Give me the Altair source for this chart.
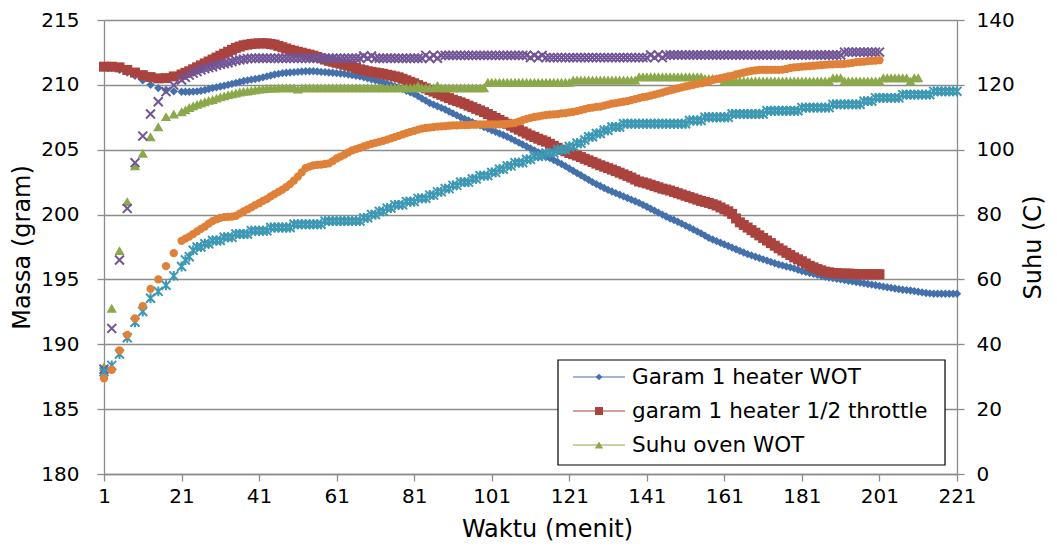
import altair as alt
import pandas as pd

# x categories (minutes): every 2 min up to 19, then every minute
menit = [1, 3, 5, 7, 9, 11, 13, 15, 17, 19] + list(range(21, 222))
x_ticks = [1, 21, 41, 61, 81, 101, 121, 141, 161, 181, 201, 221]
left_ticks = [180, 185, 190, 195, 200, 205, 210, 215]
right_ticks = [0, 20, 40, 60, 80, 100, 120, 140]

# Garam 1 heater WOT (left axis, gram)
garam_wot = [
    211.35, 211.3, 211.15, 210.95, 210.7, 210.35, 210.0, 209.75, 209.6, 209.5,
    209.47, 209.47, 209.47, 209.48, 209.5, 209.55, 209.6, 209.68, 209.75, 209.81,
    209.87, 209.93, 210.0, 210.08, 210.15, 210.22, 210.3, 210.35, 210.4, 210.45,
    210.5, 210.58, 210.65, 210.72, 210.8, 210.85, 210.9, 210.93, 210.95, 210.98,
    211.0, 211.03, 211.05, 211.05, 211.05, 211.03, 211.0, 210.98, 210.95, 210.93,
    210.9, 210.88, 210.85, 210.8, 210.75, 210.7, 210.65, 210.58, 210.5, 210.43,
    210.35, 210.28, 210.2, 210.1, 210.0, 209.9, 209.8, 209.68, 209.55, 209.43,
    209.3, 209.13, 208.95, 208.78, 208.6, 208.48, 208.35, 208.23, 208.1, 207.95,
    207.8, 207.65, 207.5, 207.38, 207.25, 207.13, 207.0, 206.88, 206.75, 206.63,
    206.5, 206.38, 206.25, 206.13, 206.0, 205.85, 205.7, 205.55, 205.4, 205.25,
    205.1, 204.95, 204.8, 204.65, 204.5, 204.35, 204.2, 204.05, 203.9, 203.73,
    203.55, 203.38, 203.2, 203.03, 202.85, 202.68, 202.5, 202.35, 202.2, 202.05,
    201.9, 201.78, 201.65, 201.53, 201.4, 201.28, 201.15, 201.03, 200.9, 200.75,
    200.6, 200.45, 200.3, 200.15, 200.0, 199.85, 199.7, 199.58, 199.45, 199.3,
    199.15, 199.0, 198.85, 198.7, 198.55, 198.38, 198.2, 198.08, 197.95, 197.83,
    197.7, 197.58, 197.45, 197.33, 197.2, 197.08, 196.95, 196.85, 196.75, 196.65,
    196.55, 196.45, 196.35, 196.25, 196.15, 196.08, 196.0, 195.93, 195.85, 195.75,
    195.65, 195.58, 195.5, 195.43, 195.35, 195.28, 195.2, 195.15, 195.1, 195.05,
    195.0, 194.95, 194.9, 194.85, 194.8, 194.75, 194.7, 194.65, 194.6, 194.55,
    194.5, 194.45, 194.4, 194.35, 194.3, 194.25, 194.2, 194.18, 194.15, 194.1,
    194.05, 194.0, 193.95, 193.93, 193.9, 193.9, 193.9, 193.9, 193.9, 193.9, 193.9,
]

# garam 1 heater 1/2 throttle (left axis, gram)
garam_half = [
    211.4, 211.4, 211.35, 211.15, 210.95, 210.75, 210.6, 210.5, 210.52, 210.65,
    210.8, 210.93, 211.05, 211.2, 211.35, 211.5, 211.65, 211.8, 211.95, 212.1,
    212.25, 212.4, 212.55, 212.7, 212.85, 212.95, 213.05, 213.1, 213.15, 213.18,
    213.2, 213.2, 213.2, 213.15, 213.1, 213.0, 212.9, 212.8, 212.7, 212.63,
    212.55, 212.48, 212.4, 212.33, 212.25, 212.15, 212.05, 211.95, 211.85, 211.78,
    211.7, 211.63, 211.55, 211.48, 211.4, 211.3, 211.2, 211.13, 211.05, 211.0,
    210.95, 210.9, 210.85, 210.78, 210.72, 210.65, 210.58, 210.47, 210.35, 210.23,
    210.12, 209.98, 209.85, 209.73, 209.6, 209.48, 209.35, 209.23, 209.1, 208.98,
    208.85, 208.75, 208.65, 208.53, 208.4, 208.28, 208.15, 208.03, 207.9, 207.75,
    207.6, 207.45, 207.3, 207.15, 207.0, 206.85, 206.7, 206.55, 206.4, 206.25,
    206.1, 205.98, 205.85, 205.73, 205.62, 205.46, 205.3, 205.15, 205.0, 204.88,
    204.75, 204.65, 204.55, 204.43, 204.3, 204.18, 204.05, 203.93, 203.8, 203.69,
    203.58, 203.47, 203.35, 203.23, 203.1, 202.98, 202.85, 202.7, 202.55, 202.48,
    202.4, 202.3, 202.2, 202.1, 202.0, 201.93, 201.85, 201.75, 201.65, 201.55,
    201.45, 201.35, 201.25, 201.15, 201.05, 200.98, 200.9, 200.8, 200.7, 200.55,
    200.4, 200.25, 200.05, 199.7, 199.4, 199.2, 199.0, 198.8, 198.6, 198.4,
    198.2, 198.0, 197.8, 197.6, 197.4, 197.23, 197.05, 196.88, 196.7, 196.55,
    196.4, 196.23, 196.05, 195.93, 195.8, 195.7, 195.6, 195.55, 195.5, 195.48,
    195.45, 195.45, 195.45, 195.43, 195.4, 195.4, 195.4, 195.4, 195.4, 195.4,
    195.4,
]

# Suhu oven WOT (right axis, C)
suhu_oven = [
    33.1, 51.1, 68.9, 84.0, 95.0, 98.9, 104.0, 107.1, 110.2, 111.0,
    111.7, 112.3, 113.0, 113.5, 114.0, 114.4, 114.8, 115.2, 115.5, 115.9,
    116.3, 116.6, 117.0, 117.2, 117.5, 117.8, 118.0, 118.1, 118.3, 118.5,
    118.7, 118.8, 118.9, 119.0, 119.0, 119.1, 119.1, 119.1, 119.1, 119.1,
    118.7, 119.1, 119.1, 119.1, 119.1, 119.1, 119.1, 119.1, 119.1, 119.1,
    119.1, 119.1, 119.1, 119.1, 119.1, 119.1, 119.1, 119.1, 119.1, 119.1,
    119.1, 119.1, 119.1, 119.1, 119.1, 119.1, 119.1, 119.1, 119.1, 119.1,
    119.1, 119.8, 119.1, 119.1, 119.1, 119.1, 119.8, 119.1, 119.1, 119.1,
    119.1, 119.1, 119.1, 119.1, 119.1, 119.1, 119.1, 119.1, 119.1, 120.8,
    120.8, 120.8, 120.8, 120.8, 120.8, 120.8, 120.8, 120.8, 120.8, 120.8,
    120.8, 120.8, 120.8, 120.8, 120.8, 120.8, 120.8, 120.8, 120.8, 120.8,
    120.8, 121.5, 121.5, 121.5, 121.5, 121.5, 121.5, 121.5, 121.5, 121.5,
    121.5, 121.5, 121.5, 121.5, 121.5, 121.5, 121.5, 121.5, 122.5, 122.5,
    122.5, 122.5, 122.5, 122.5, 122.5, 122.5, 122.5, 122.5, 122.5, 122.5,
    122.5, 122.5, 122.5, 122.5, 122.5, 122.0, 122.0, 122.0, 122.0, 122.0,
    121.2, 121.2, 121.2, 121.2, 121.2, 121.2, 121.2, 121.2, 121.2, 121.2,
    121.2, 121.2, 121.2, 121.2, 121.2, 121.2, 121.2, 121.2, 121.2, 121.2,
    121.2, 121.2, 121.2, 121.2, 121.2, 121.2, 121.2, 121.2, 122.2, 122.2,
    122.2, 121.2, 121.2, 121.2, 121.2, 121.2, 121.2, 121.2, 121.2, 121.2,
    121.2, 122.2, 122.2, 122.2, 122.2, 122.2, 122.2, 122.2, 121.2, 122.2, 122.2,
]

# purple x series (right axis, C)
suhu_ungu = [
    32.3, 44.9, 66.0, 81.9, 96.0, 104.2, 111.0, 114.8, 117.9, 119.9,
    121.5, 122.3, 123.0, 123.6, 124.1, 124.6, 125.0, 125.3, 125.6, 126.0,
    126.3, 126.6, 126.8, 127.2, 127.5, 127.7, 127.9, 128.1, 128.2, 128.2,
    128.2, 128.2, 128.2, 128.2, 128.2, 128.2, 128.2, 128.2, 128.2, 128.2,
    128.2, 128.2, 128.2, 128.2, 128.2, 128.2, 128.2, 128.2, 128.2, 128.2,
    128.2, 128.2, 128.2, 128.2, 128.2, 128.2, 128.2, 128.9, 128.2, 128.9,
    128.2, 128.2, 128.2, 128.2, 128.2, 128.2, 128.2, 128.2, 128.2, 128.2,
    128.2, 128.2, 128.2, 129.1, 128.2, 129.1, 128.2, 129.1, 129.1, 129.1,
    129.1, 129.1, 129.1, 129.1, 129.1, 129.1, 129.1, 129.1, 129.1, 129.1,
    129.1, 129.1, 129.1, 129.1, 129.1, 129.1, 129.1, 129.1, 129.1, 129.1,
    128.4, 129.1, 128.4, 129.1, 128.4, 128.4, 128.4, 128.4, 128.4, 128.4,
    128.4, 128.4, 128.4, 128.4, 128.4, 128.4, 128.4, 128.4, 128.4, 128.4,
    128.4, 128.4, 128.4, 128.4, 128.4, 128.4, 128.4, 128.4, 128.4, 128.4,
    128.4, 129.2, 128.4, 129.2, 128.4, 129.2, 129.2, 129.2, 129.2, 129.2,
    129.2, 129.2, 129.2, 129.2, 129.2, 129.2, 129.2, 129.2, 129.2, 129.2,
    129.2, 129.2, 129.2, 129.2, 129.2, 129.2, 129.2, 129.2, 129.2, 129.2,
    129.2, 129.2, 129.2, 129.2, 129.2, 129.2, 129.2, 129.2, 129.2, 129.2,
    129.2, 129.2, 129.2, 129.2, 129.2, 129.2, 129.2, 129.2, 129.2, 129.2,
    129.2, 130.1, 130.1, 130.1, 130.1, 130.1, 130.1, 130.1, 130.1, 130.1,
    130.1,
]

# cyan star series (right axis, C)
suhu_biru = [
    31.5, 33.5, 37.0, 42.0, 46.8, 50.1, 54.2, 56.3, 58.2, 61.1,
    64, 66, 67, 69, 70, 70, 71, 71, 72, 72,
    72, 73, 73, 73, 74, 74, 74, 74, 75, 75,
    75, 75, 75, 76, 76, 76, 76, 76, 76, 77,
    77, 77, 77, 77, 77, 77, 77, 78, 78, 78,
    78, 78, 78, 78, 78, 78, 78, 79, 79, 80,
    80, 81, 81, 82, 82, 83, 83, 83, 84, 84,
    84, 85, 85, 85, 86, 86, 87, 87, 88, 88,
    89, 89, 90, 90, 90, 91, 91, 92, 92, 92,
    93, 93, 94, 94, 95, 95, 96, 96, 96, 97,
    97, 98, 98, 98, 99, 99, 99, 100, 100, 100,
    101, 101, 102, 102, 103, 104, 104, 105, 105, 106,
    106, 107, 107, 107, 108, 108, 108, 108, 108, 108,
    108, 108, 108, 108, 108, 108, 108, 108, 108, 108,
    108, 109, 109, 109, 109, 110, 110, 110, 110, 110,
    110, 110, 111, 111, 111, 111, 111, 111, 111, 111,
    111, 112, 112, 112, 112, 112, 112, 112, 112, 112,
    113, 113, 113, 113, 113, 113, 113, 113, 114, 114,
    114, 114, 114, 114, 114, 114, 115, 115, 115, 116,
    116, 116, 116, 116, 116, 116, 117, 117, 117, 117,
    117, 117, 117, 117, 118, 118, 118, 118, 118, 118, 118,
]

# orange circle series (right axis, C)
suhu_oranye = [
    29.5, 32.1, 38.1, 42.9, 48.0, 51.8, 57.1, 60.0, 64.1, 68.1,
    71.9, 72.6, 73.2, 74.0, 74.8, 75.6, 76.3, 77.2, 78.0, 78.5,
    79.0, 79.2, 79.3, 79.4, 79.6, 80.3, 81.0, 81.6, 82.2, 82.9,
    83.5, 84.2, 84.8, 85.6, 86.3, 87.0, 87.7, 88.5, 89.4, 90.5,
    91.7, 93.0, 94.3, 94.8, 95.2, 95.3, 95.4, 95.6, 95.8, 96.5,
    97.3, 97.9, 98.5, 99.2, 99.8, 100.2, 100.6, 101.0, 101.4, 101.8,
    102.1, 102.4, 102.7, 103.1, 103.5, 103.9, 104.3, 104.7, 105.1, 105.5,
    105.8, 106.2, 106.5, 106.7, 106.8, 107.0, 107.1, 107.2, 107.3, 107.4,
    107.5, 107.5, 107.6, 107.6, 107.6, 107.7, 107.7, 107.8, 107.8, 107.8,
    107.8, 107.8, 107.8, 107.9, 108.0, 108.1, 108.3, 108.7, 109.1, 109.5,
    109.8, 110.1, 110.3, 110.5, 110.7, 110.8, 110.9, 111.0, 111.2, 111.3,
    111.5, 111.7, 111.9, 112.2, 112.5, 112.8, 113.0, 113.2, 113.3, 113.6,
    113.9, 114.2, 114.4, 114.6, 114.8, 115.0, 115.3, 115.6, 115.9, 116.2,
    116.4, 116.7, 117.0, 117.3, 117.6, 118.0, 118.3, 118.6, 118.9, 119.2,
    119.5, 119.8, 120.0, 120.3, 120.5, 120.8, 121.1, 121.5, 121.8, 122.1,
    122.3, 122.6, 122.8, 123.2, 123.5, 123.8, 124.1, 124.3, 124.5, 124.6,
    124.6, 124.6, 124.6, 124.6, 124.6, 124.7, 124.9, 125.2, 125.4, 125.5,
    125.6, 125.7, 125.8, 125.9, 126.0, 126.1, 126.2, 126.3, 126.3, 126.4,
    126.4, 126.5, 126.6, 126.8, 127.0, 127.1, 127.2, 127.3, 127.4, 127.5,
    127.6,
]

legend_labels = ["Garam 1 heater WOT", "garam 1 heater 1/2 throttle", "Suhu oven WOT"]

C_BLUE = "#4471AC"
C_RED = "#AA433E"
C_GREEN = "#8BA84B"
C_PURPLE = "#715597"
C_CYAN = "#3D99B3"
C_ORANGE = "#E0813A"

FONT = "DejaVu Sans"
FS_LABEL = 20
FS_TITLE = 24
FS_LEGEND = 21.5
GRID = "#8c8c8c"

X_PATH = "M-1,-1L1,1M-1,1L1,-1"
STAR_PATH = "M-1,-1L1,1M-1,1L1,-1M0,-1.1L0,1.1"


def frame(vals):
    return pd.DataFrame({"menit": menit[: len(vals)], "nilai": vals})


x_enc = alt.X(
    "menit:Q",
    scale=alt.Scale(domain=[1, 221], nice=False, zero=False),
    axis=alt.Axis(
        values=x_ticks, title="Waktu (menit)", grid=False, tickSize=7,
        labelPadding=5, labelFlush=False,
        titleX=443, titleY=55, titleAlign="center", titleBaseline="middle",
    ),
)

left_axis = alt.Axis(
    orient="left", values=left_ticks, title="Massa (gram)", grid=True,
    gridColor=GRID, gridWidth=1.3, tickSize=7, labelPadding=18,
    titleX=-82, titleY=227, titleAngle=270, titleAlign="center", titleBaseline="middle",
)
right_axis = alt.Axis(
    orient="right", values=right_ticks, title="Suhu (C)", grid=False,
    tickSize=7, labelPadding=12,
    titleX=76, titleY=227, titleAngle=270, titleAlign="center", titleBaseline="middle",
)

y_left = alt.Y("nilai:Q", scale=alt.Scale(domain=[180, 215], nice=False, zero=False), axis=left_axis)
y_right = alt.Y("nilai:Q", scale=alt.Scale(domain=[0, 140], nice=False, zero=False), axis=right_axis)

blue = alt.Chart(frame(garam_wot)).mark_point(
    shape="diamond", filled=True, size=70, color=C_BLUE, opacity=1
).encode(x=x_enc, y=y_left)
red = alt.Chart(frame(garam_half)).mark_point(
    shape="square", filled=True, size=100, color=C_RED, opacity=1
).encode(x=x_enc, y=y_left)
left = alt.layer(blue, red)

green = alt.Chart(frame(suhu_oven)).mark_point(
    shape="triangle-up", filled=True, size=105, color=C_GREEN, opacity=1
).encode(x=x_enc, y=y_right)
purple = alt.Chart(frame(suhu_ungu)).mark_point(
    shape=X_PATH, filled=False, size=80, strokeWidth=2, color=C_PURPLE, opacity=1
).encode(x=x_enc, y=y_right)
cyan = alt.Chart(frame(suhu_biru)).mark_point(
    shape=STAR_PATH, filled=False, size=80, strokeWidth=2, color=C_CYAN, opacity=1
).encode(x=x_enc, y=y_right)
orange = alt.Chart(frame(suhu_oranye)).mark_point(
    shape="circle", filled=True, size=68, color=C_ORANGE, opacity=1
).encode(x=x_enc, y=y_right)
right = alt.layer(green, purple, cyan, orange)

# manual legend (Excel-like box in lower right)
one = pd.DataFrame({"k": [0]})
LX0, LX1, LY0, LY1 = 454, 841, 340, 445
legend_layers = [
    alt.Chart(one).mark_rect(fill="white", stroke="black", strokeWidth=1.2).encode(
        x=alt.value(LX0), x2=alt.value(LX1), y=alt.value(LY0), y2=alt.value(LY1)
    )
]
rows_y = [357, 391, 425]
markers = [
    dict(shape="diamond", size=45, color=C_BLUE),
    dict(shape="square", size=64, color=C_RED),
    dict(shape="triangle-up", size=70, color=C_GREEN),
]
for lab, yy, mk in zip(legend_labels, rows_y, markers):
    legend_layers.append(
        alt.Chart(one).mark_rule(color=mk["color"], strokeWidth=1.2).encode(
            x=alt.value(469), x2=alt.value(521), y=alt.value(yy)
        )
    )
    legend_layers.append(
        alt.Chart(one).mark_point(shape=mk["shape"], size=mk["size"], filled=True,
                                  color=mk["color"], opacity=1).encode(
            x=alt.value(495), y=alt.value(yy)
        )
    )
    legend_layers.append(
        alt.Chart(one).mark_text(align="left", baseline="middle", font=FONT,
                                 fontSize=FS_LEGEND, color="black").encode(
            x=alt.value(528), y=alt.value(yy + 1), text=alt.value(lab)
        )
    )

chart = (
    alt.layer(left, right, *legend_layers)
    .resolve_scale(y="independent")
    .properties(
        width=853,
        height=454,
        padding={"left": 96, "top": 12, "right": 92, "bottom": 71},
        autosize=alt.AutoSizeParams(type="none"),
    )
    .configure_view(strokeWidth=0)
    .configure_axis(
        labelFont=FONT, titleFont=FONT, labelFontSize=FS_LABEL, titleFontSize=FS_TITLE,
        labelColor="black", titleColor="black", titleFontWeight="normal",
        domainColor=GRID, domainWidth=1.3, tickColor=GRID, tickWidth=1.3,
    )
)

chart.save("out.html", embed_options={"renderer": "svg", "actions": False})
